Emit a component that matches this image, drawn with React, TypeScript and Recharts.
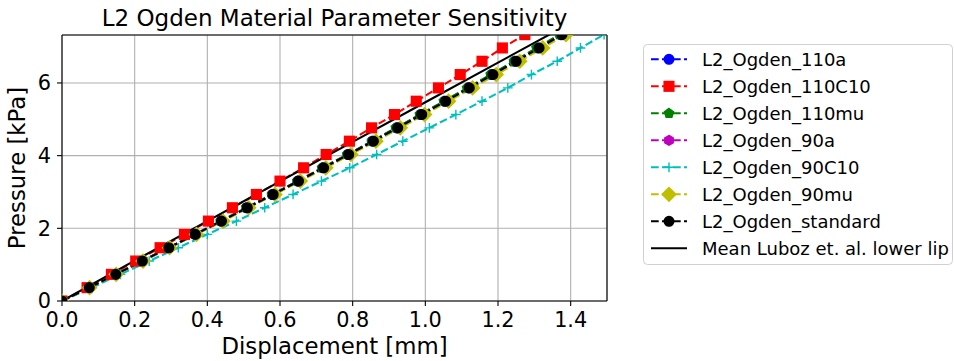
import React from 'react';
import { LineChart, Line, XAxis, YAxis, CartesianGrid, Legend, ReferenceLine } from 'recharts';

// Pressure load steps [kPa] shared by every simulated series
const pressure = [0, 0.367, 0.733, 1.10, 1.466, 1.833, 2.199, 2.566, 2.932, 3.299, 3.665, 4.032, 4.398, 4.765, 5.131, 5.498, 5.864, 6.231, 6.597, 6.964, 7.33];

// Displacements [mm] for each series
const disp110a = [0, 0.075, 0.148, 0.220, 0.293, 0.366, 0.438, 0.508, 0.579, 0.649, 0.718, 0.787, 0.854, 0.921, 0.987, 1.053, 1.118, 1.182, 1.246, 1.309, 1.372];
const disp110C10 = [0, 0.069, 0.136, 0.203, 0.270, 0.337, 0.403, 0.469, 0.535, 0.600, 0.665, 0.727, 0.791, 0.852, 0.915, 0.975, 1.036, 1.096, 1.156, 1.212, 1.274];
const disp110mu = [0, 0.075, 0.147, 0.220, 0.293, 0.365, 0.437, 0.507, 0.578, 0.648, 0.716, 0.785, 0.853, 0.919, 0.985, 1.051, 1.115, 1.180, 1.244, 1.306, 1.369];
const disp90a = [0, 0.075, 0.148, 0.222, 0.295, 0.368, 0.440, 0.512, 0.583, 0.653, 0.722, 0.791, 0.860, 0.927, 0.993, 1.059, 1.124, 1.190, 1.254, 1.317, 1.380];
const disp90C10 = [0, 0.082, 0.161, 0.240, 0.320, 0.400, 0.480, 0.558, 0.636, 0.714, 0.792, 0.866, 0.938, 1.011, 1.084, 1.156, 1.227, 1.292, 1.363, 1.427, 1.492];
const disp90mu = [0, 0.076, 0.149, 0.223, 0.296, 0.370, 0.443, 0.514, 0.586, 0.656, 0.726, 0.795, 0.864, 0.931, 0.998, 1.064, 1.130, 1.195, 1.260, 1.323, 1.387];
const dispStandard = [0, 0.075, 0.148, 0.221, 0.294, 0.367, 0.439, 0.510, 0.581, 0.651, 0.720, 0.789, 0.857, 0.924, 0.990, 1.056, 1.121, 1.186, 1.250, 1.313, 1.376];

// Mean Luboz et al. lower lip reference curve
const lubozDisp = [0, 0.2, 0.4, 0.6, 0.8, 1.0, 1.2, 1.4];
const lubozPressure = [0, 1.11, 2.2, 3.29, 4.38, 5.47, 6.56, 7.65];

const seriesNames = ['L2_Ogden_110a', 'L2_Ogden_110C10', 'L2_Ogden_110mu', 'L2_Ogden_90a', 'L2_Ogden_90C10', 'L2_Ogden_90mu', 'L2_Ogden_standard'];
const lubozName = 'Mean Luboz et. al. lower lip';

const xTicks = [0, 0.2, 0.4, 0.6, 0.8, 1.0, 1.2, 1.4];
const yTicks = [0, 2, 4, 6];

const FONT = '"DejaVu Sans", sans-serif';
const MS = 9.7;
const EW = 1.4;
const LW = 2.1;
const DASH = '7.7 3.3';

type Shape = 'o' | 's' | 'p' | 'h' | '+' | 'D';

const series: { name: string; xs: number[]; color: string; shape: Shape }[] = [
  { name: seriesNames[0], xs: disp110a, color: '#0000ff', shape: 'o' },
  { name: seriesNames[1], xs: disp110C10, color: '#ff0000', shape: 's' },
  { name: seriesNames[2], xs: disp110mu, color: '#008000', shape: 'p' },
  { name: seriesNames[3], xs: disp90a, color: '#bf00bf', shape: 'h' },
  { name: seriesNames[4], xs: disp90C10, color: '#00bfbf', shape: '+' },
  { name: seriesNames[5], xs: disp90mu, color: '#bfbf00', shape: 'D' },
  { name: seriesNames[6], xs: dispStandard, color: '#000000', shape: 'o' },
];

const toData = (xs: number[], ys: number[]) => xs.map((x, i) => ({ x, y: ys[i] }));

function polyPoints(cx: number, cy: number, r: number, n: number) {
  const pts: string[] = [];
  for (let i = 0; i < n; i++) {
    const a = -Math.PI / 2 + (2 * Math.PI * i) / n;
    pts.push(`${cx + r * Math.cos(a)},${cy + r * Math.sin(a)}`);
  }
  return pts.join(' ');
}

function MarkerShape({ shape, cx, cy, color }: { shape: Shape; cx: number; cy: number; color: string }) {
  const h = MS / 2;
  switch (shape) {
    case 'o':
      return <circle cx={cx} cy={cy} r={h} fill={color} stroke={color} strokeWidth={EW} />;
    case 's':
      return <rect x={cx - h} y={cy - h} width={MS} height={MS} fill={color} stroke={color} strokeWidth={EW} />;
    case 'p':
      return <polygon points={polyPoints(cx, cy, h, 5)} fill={color} stroke={color} strokeWidth={EW} />;
    case 'h':
      return <polygon points={polyPoints(cx, cy, h, 6)} fill={color} stroke={color} strokeWidth={EW} />;
    case '+':
      return <path d={`M${cx - h},${cy}H${cx + h}M${cx},${cy - h}V${cy + h}`} stroke={color} strokeWidth={EW} fill="none" />;
    case 'D': {
      const d = MS * 0.7071;
      return <polygon points={`${cx},${cy - d} ${cx + d},${cy} ${cx},${cy + d} ${cx - d},${cy}`} fill={color} stroke={color} strokeWidth={EW} />;
    }
  }
  return null;
}

function LegendBox() {
  const W = 310;
  const H = 221;
  const rows = [...series.map((s) => ({ name: s.name, color: s.color, shape: s.shape as Shape | null })), { name: lubozName, color: '#000000', shape: null }];
  return (
    <svg width={W} height={H} style={{ display: 'block' }}>
      <rect x={0.5} y={0.5} width={W - 1} height={H - 1} rx={4} ry={4} fill="#ffffff" stroke="#d0d0d0" strokeWidth={1} />
      {rows.map((r, i) => {
        const cy = 15.3 + 27 * i;
        return (
          <g key={r.name}>
            <line x1={8} y1={cy} x2={44} y2={cy} stroke={r.color} strokeWidth={LW} strokeDasharray={r.shape ? DASH : undefined} />
            {r.shape && <MarkerShape shape={r.shape} cx={26} cy={cy} color={r.color} />}
            <text x={59} y={cy + 6.6} fontFamily={FONT} fontSize={18} fill="#000000">{r.name}</text>
          </g>
        );
      })}
    </svg>
  );
}

export default function App() {
  return (
    <div style={{ position: 'absolute', left: 0, top: 0, width: 954, height: 361, background: '#ffffff' }}>
      <LineChart width={954} height={361} margin={{ top: 35, right: 347, bottom: 0, left: 0 }}>
        <CartesianGrid stroke="#b0b0b0" strokeWidth={1.1} />
        <XAxis
          type="number"
          dataKey="x"
          domain={[0, 1.5]}
          allowDataOverflow
          ticks={xTicks}
          tickFormatter={(v: number) => v.toFixed(1)}
          height={60}
          tickSize={5}
          tickMargin={6}
          tick={{ fontSize: 20.8, fill: '#000000', fontFamily: FONT }}
          tickLine={{ stroke: '#000000', strokeWidth: 1.1 }}
          axisLine={{ stroke: '#000000', strokeWidth: 1.1 }}
          label={{
            content: () => (
              <text x={334.5} y={354} textAnchor="middle" fontFamily={FONT} fontSize={22.8} fill="#000000">Displacement [mm]</text>
            ),
          }}
        />
        <YAxis
          type="number"
          dataKey="y"
          domain={[0, 7.32]}
          allowDataOverflow
          ticks={yTicks}
          width={62}
          tickSize={5}
          tickMargin={6}
          tick={{ fontSize: 20.8, fill: '#000000', fontFamily: FONT }}
          tickLine={{ stroke: '#000000', strokeWidth: 1.1 }}
          axisLine={{ stroke: '#000000', strokeWidth: 1.1 }}
          label={{
            content: () => (
              <text x={24.5} y={168} transform="rotate(-90, 24.5, 168)" textAnchor="middle" fontFamily={FONT} fontSize={22.8} fill="#000000">Pressure [kPa]</text>
            ),
          }}
        />
        {series.map((s) => (
          <Line
            key={s.name}
            name={s.name}
            data={toData(s.xs, pressure)}
            dataKey="y"
            type="linear"
            stroke={s.color}
            strokeWidth={LW}
            strokeDasharray={DASH}
            isAnimationActive={false}
            dot={(p: any) => <MarkerShape key={`${s.name}-${p.index}`} shape={s.shape} cx={p.cx} cy={p.cy} color={s.color} />}
            activeDot={false}
          />
        ))}
        <Line
          name={lubozName}
          data={toData(lubozDisp, lubozPressure)}
          dataKey="y"
          type="linear"
          stroke="#000000"
          strokeWidth={LW}
          dot={false}
          activeDot={false}
          isAnimationActive={false}
        />
        <ReferenceLine y={7.32} stroke="#000000" strokeWidth={1.1} />
        <ReferenceLine x={1.5} stroke="#000000" strokeWidth={1.1} />
        <Legend
          layout="vertical"
          align="center"
          verticalAlign="middle"
          wrapperStyle={{ left: 643, top: 44, width: 310, height: 221 }}
          content={() => <LegendBox />}
        />
      </LineChart>
      <svg width={954} height={34} style={{ position: 'absolute', left: 0, top: 0, pointerEvents: 'none' }}>
        <text x={334.5} y={26} textAnchor="middle" fontFamily={FONT} fontSize={23} fill="#000000">L2 Ogden Material Parameter Sensitivity</text>
      </svg>
    </div>
  );
}
